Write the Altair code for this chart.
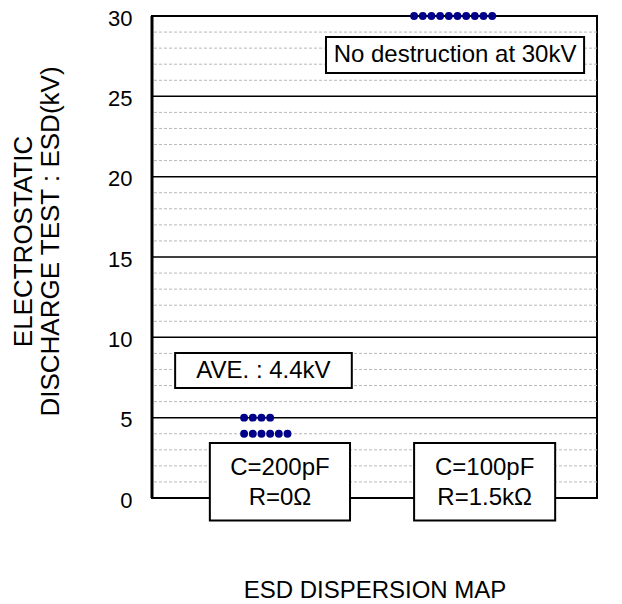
import altair as alt
import pandas as pd

# ---- data ----
conditions = ["C=200pF\nR=0Ω", "C=100pF\nR=1.5kΩ"]
esd_200pF = [5, 5, 5, 5, 4, 4, 4, 4, 4, 4]          # kV
esd_100pF = [30, 30, 30, 30, 30, 30, 30, 30, 30, 30]  # kV (no destruction)
y_ticks = [0, 5, 10, 15, 20, 25, 30]
major_grid = [5, 10, 15, 20, 25]
minor_grid = [v for v in range(1, 30) if v % 5 != 0]
ave_label = "AVE. : 4.4kV"
nodestr_label = "No destruction at 30kV"

FONT = "Liberation Sans"

# ---- layout helpers (x axis is a hidden 0..100 scale) ----
group_start = [20.7, 58.9]
spacing = 1.95
rows = []
for gi, vals in enumerate([esd_200pF, esd_100pF]):
    counts = {}
    for v in vals:
        k = counts.get(v, 0)
        rows.append({"cond": conditions[gi], "esd": v, "x": group_start[gi] + k * spacing})
        counts[v] = k + 1
dots = pd.DataFrame(rows)

cond_boxes = pd.DataFrame({
    "x": [13.0, 58.9], "x2": [44.5, 90.6],
    "y": [3.42, 3.42], "y2": [-1.4, -1.4],
    "cx": [28.75, 74.75],
    "y1t": [1.87, 1.87], "y2t": [0.03, 0.03],
    "l1": [c.split("\n")[0] for c in conditions],
    "l2": [c.split("\n")[1] for c in conditions],
})
note_boxes = pd.DataFrame({
    "x": [5.2, 39.1], "x2": [44.9, 97.1],
    "y": [9.02, 28.7], "y2": [6.85, 26.45],
    "cx": [25.05, 68.1], "cy": [7.935, 27.575],
    "label": [ave_label, nodestr_label],
})

xs = alt.Scale(domain=[0, 100], nice=False, zero=False)
ys = alt.Scale(domain=[0, 30], nice=False)

y_axis = alt.Axis(
    values=y_ticks, grid=False, ticks=False, domain=False, labelOverlap=False,
    labelFont=FONT, labelFontSize=22, labelColor="black", labelPadding=20,
    labelBaseline="alphabetic", labelOffset=9,
    title=["ELECTROSTATIC", "DISCHARGE TEST : ESD(kV)"],
    titleFont=FONT, titleFontSize=26, titleFontWeight="normal", titleColor="black",
    titleLineHeight=27, titleX=-116, titleY=225,
)
x_axis = alt.Axis(labels=False, ticks=False, domain=False, grid=False,
                  title="ESD DISPERSION MAP", titleFont=FONT, titleFontSize=24,
                  titleFontWeight="normal", titleColor="black", titlePadding=80)

minor_layer = alt.Chart(pd.DataFrame({"v": minor_grid})).mark_rule(
    color="#b8b8b8", strokeWidth=1, strokeDash=[3, 2]).encode(
    y=alt.Y("v:Q", scale=ys, axis=y_axis),
)
major_layer = alt.Chart(pd.DataFrame({"v": major_grid})).mark_rule(
    color="black", strokeWidth=1.5).encode(
    y=alt.Y("v:Q", scale=ys),
)

dot_layer = alt.Chart(dots).mark_circle(size=62, color="#000088", opacity=1).encode(
    x=alt.X("x:Q", scale=xs, axis=x_axis),
    y=alt.Y("esd:Q", scale=ys),
)

left_edge = alt.Chart(pd.DataFrame({"x": [0]})).mark_rule(color="black", strokeWidth=3).encode(
    x=alt.X("x:Q", scale=xs))

cond_rect = alt.Chart(cond_boxes).mark_rect(fill="white", stroke="black", strokeWidth=2).encode(
    x="x:Q", x2="x2:Q", y="y:Q", y2="y2:Q")
cond_t1 = alt.Chart(cond_boxes).mark_text(font=FONT, fontSize=24, color="black", baseline="middle").encode(
    x="cx:Q", y="y1t:Q", text="l1:N")
cond_t2 = alt.Chart(cond_boxes).mark_text(font=FONT, fontSize=24, color="black", baseline="middle").encode(
    x="cx:Q", y="y2t:Q", text="l2:N")

note_rect = alt.Chart(note_boxes).mark_rect(fill="white", stroke="black", strokeWidth=2).encode(
    x="x:Q", x2="x2:Q", y="y:Q", y2="y2:Q")
note_text = alt.Chart(note_boxes).mark_text(font=FONT, fontSize=24, color="black", baseline="middle").encode(
    x="cx:Q", y="cy:Q", text="label:N")

chart = alt.layer(minor_layer, major_layer, left_edge, dot_layer, cond_rect, cond_t1, cond_t2,
                  note_rect, note_text).properties(
    width=445, height=482,
    autosize=alt.AutoSizeParams(type="none"),
    padding={"left": 144, "top": 8, "right": 17, "bottom": 104},
).configure(background="white").configure_view(stroke="black", strokeWidth=2)

chart.save("out.html", embed_options={"renderer": "svg", "actions": False})
